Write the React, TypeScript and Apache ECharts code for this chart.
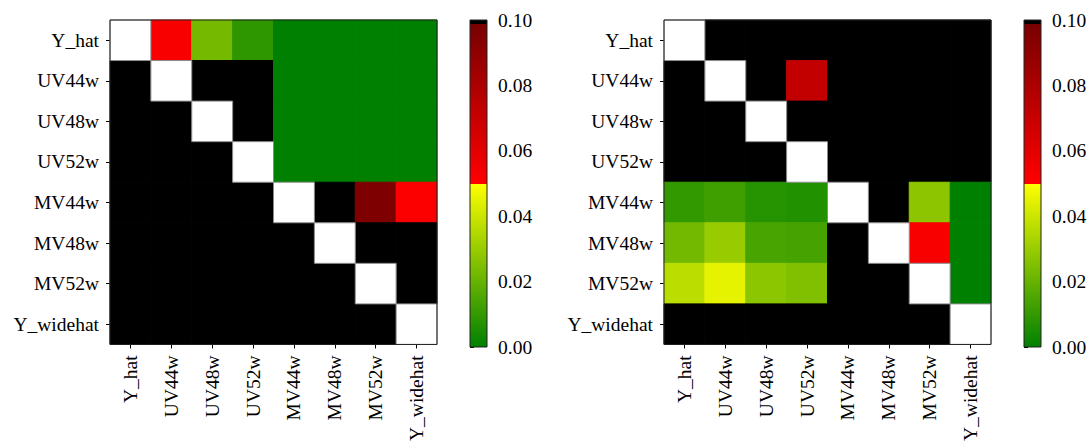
import React, { useEffect, useRef } from "react";
import * as echarts from "echarts";

const LABELS = ["Y_hat", "UV44w", "UV48w", "UV52w", "MV44w", "MV48w", "MV52w", "Y_widehat"];
// H: p-value above 0.10 (drawn black); null: diagonal (blank)
const H = 0.5;
const LEFT_MATRIX: (number | null)[][] = [
  [null, 0.052, 0.023, 0.009, 0, 0, 0, 0],
  [H, null, H, H, 0, 0, 0, 0],
  [H, H, null, H, 0, 0, 0, 0],
  [H, H, H, null, 0, 0, 0, 0],
  [H, H, H, H, null, H, 0.097, 0.051],
  [H, H, H, H, H, null, H, H],
  [H, H, H, H, H, H, null, H],
  [H, H, H, H, H, H, H, null],
];
const RIGHT_MATRIX: (number | null)[][] = [
  [null, H, H, H, H, H, H, H],
  [H, null, H, 0.072, H, H, H, H],
  [H, H, null, H, H, H, H, H],
  [H, H, H, null, H, H, H, H],
  [0.01, 0.0124, 0.0075, 0.0065, null, H, 0.0277, 0],
  [0.0224, 0.03, 0.0141, 0.0135, H, null, 0.052, 0],
  [0.0367, 0.045, 0.0275, 0.025, H, H, null, 0],
  [H, H, H, H, H, H, H, null],
];
const CBAR_RANGE = [0, 0.1];
const CBAR_TICK = 0.02;

const FONT = "Liberation Serif";
const FS = 19.5;

function lerp(a: number[], b: number[], t: number) {
  const c = a.map((v, i) => Math.round(v + (b[i] - v) * t));
  return `rgb(${c[0]},${c[1]},${c[2]})`;
}
function cmap(v: number) {
  if (v < 0.05) return lerp([0, 128, 0], [255, 255, 0], Math.max(0, v) / 0.05);
  if (v < 0.099) return lerp([255, 0, 0], [120, 0, 0], (v - 0.05) / 0.049);
  return "#000000";
}

function cells(m: (number | null)[][]) {
  const out: any[] = [];
  m.forEach((row, i) =>
    row.forEach((v, j) => {
      out.push([j, i, v === null ? NaN : v]);
    })
  );
  // draw diagonal (blank) cells last so their grey edges stay visible
  out.sort((a, b) => (isNaN(a[2]) ? 1 : 0) - (isNaN(b[2]) ? 1 : 0));
  return out;
}

function cellRender(_p: any, api: any) {
  const x = api.value(0);
  const y = api.value(1);
  const v = api.value(2);
  const c = api.coord([x, y]);
  const s = api.size([1, 1]);
  const blank = v === null || v === undefined || isNaN(v);
  const col = blank ? "#ffffff" : cmap(v);
  return {
    type: "rect",
    shape: { x: c[0] - s[0] / 2, y: c[1] - s[1] / 2, width: s[0], height: s[1] },
    style: blank
      ? { fill: col, stroke: "#8c8c8c", lineWidth: 1 }
      : { fill: col, stroke: col, lineWidth: 1 },
  };
}

export default function App() {
  const ref = useRef<HTMLDivElement>(null);
  useEffect(() => {
    if (!ref.current) return;
    const chart = echarts.init(ref.current, null, { renderer: "svg" });
    const grad = () =>
      new echarts.graphic.LinearGradient(0, 1, 0, 0, [
        { offset: 0, color: "#008000" },
        { offset: 0.5, color: "#ffff00" },
        { offset: 0.5, color: "#ff0000" },
        { offset: 0.988, color: "#780000" },
        { offset: 0.988, color: "#000000" },
        { offset: 1, color: "#000000" },
      ]);
    const heatGrids = [
      { left: 110, top: 20, width: 327, height: 327 },
      { left: 664, top: 20, width: 327, height: 327 },
    ];
    const cbGrids = [
      { left: 470, top: 20, width: 17, height: 327 },
      { left: 1024, top: 20, width: 17, height: 327 },
    ];
    const grids = [...heatGrids, ...cbGrids].map((g) => ({
      ...g,
      show: true,
      borderColor: "#222",
      borderWidth: 1,
      backgroundColor: "transparent",
      z: 10,
    }));
    const labelStyle = { fontFamily: FONT, fontSize: FS, color: "#000" };
    const xAxes: any[] = [];
    const yAxes: any[] = [];
    for (let k = 0; k < 2; k++) {
      xAxes.push({
        type: "category",
        gridIndex: k,
        data: LABELS,
        axisLine: { show: false },
        axisTick: { show: true, alignWithLabel: true, length: 4, lineStyle: { color: "#000" } },
        axisLabel: { ...labelStyle, rotate: 90, margin: 11, interval: 0 },
        splitLine: { show: false },
      });
      yAxes.push({
        type: "category",
        gridIndex: k,
        data: LABELS,
        inverse: true,
        axisLine: { show: false },
        axisTick: { show: true, alignWithLabel: true, length: 4, lineStyle: { color: "#000" } },
        axisLabel: { ...labelStyle, margin: 11, interval: 0 },
        splitLine: { show: false },
      });
    }
    for (let k = 0; k < 2; k++) {
      xAxes.push({ type: "value", gridIndex: 2 + k, min: 0, max: 1, show: false });
      yAxes.push({
        type: "value",
        gridIndex: 2 + k,
        position: "right",
        min: CBAR_RANGE[0],
        max: CBAR_RANGE[1],
        interval: CBAR_TICK,
        axisLine: { show: false },
        axisTick: { show: true, length: 4, lineStyle: { color: "#000" } },
        axisLabel: { ...labelStyle, margin: 11, formatter: (v: number) => v.toFixed(2) },
        splitLine: { show: false },
      });
    }
    const series: any[] = [
      { type: "custom", xAxisIndex: 0, yAxisIndex: 0, data: cells(LEFT_MATRIX), renderItem: cellRender },
      { type: "custom", xAxisIndex: 1, yAxisIndex: 1, data: cells(RIGHT_MATRIX), renderItem: cellRender },
    ];
    for (let k = 0; k < 2; k++) {
      series.push({
        type: "custom",
        xAxisIndex: 2 + k,
        yAxisIndex: 2 + k,
        data: [[0, CBAR_RANGE[0], 1, CBAR_RANGE[1]]],
        renderItem: (_p: any, api: any) => {
          const a = api.coord([api.value(0), api.value(1)]);
          const b = api.coord([api.value(2), api.value(3)]);
          return {
            type: "rect",
            shape: { x: a[0], y: b[1], width: b[0] - a[0], height: a[1] - b[1] },
            style: { fill: grad() },
          };
        },
      });
    }
    chart.setOption({
      animation: false,
      backgroundColor: "#ffffff",
      grid: grids,
      xAxis: xAxes,
      yAxis: yAxes,
      series,
    });
    return () => chart.dispose();
  }, []);
  return (
    <div
      ref={ref}
      style={{ position: "fixed", left: 0, top: 0, width: 1092, height: 444 }}
    />
  );
}
